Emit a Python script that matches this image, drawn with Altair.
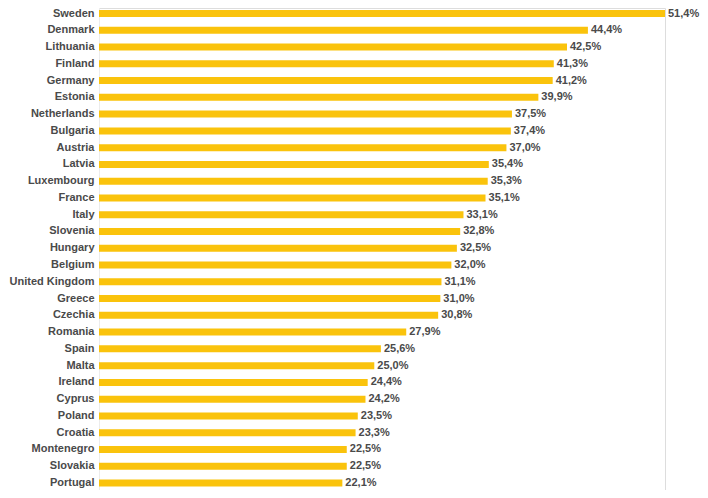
import altair as alt
import pandas as pd

countries = ["Sweden", "Denmark", "Lithuania", "Finland", "Germany", "Estonia",
             "Netherlands", "Bulgaria", "Austria", "Latvia", "Luxembourg", "France",
             "Italy", "Slovenia", "Hungary", "Belgium", "United Kingdom", "Greece",
             "Czechia", "Romania", "Spain", "Malta", "Ireland", "Cyprus", "Poland",
             "Croatia", "Montenegro", "Slovakia", "Portugal"]
values = [51.4, 44.4, 42.5, 41.3, 41.2, 39.9, 37.5, 37.4, 37.0, 35.4, 35.3, 35.1,
          33.1, 32.8, 32.5, 32.0, 31.1, 31.0, 30.8, 27.9, 25.6, 25.0, 24.4, 24.2,
          23.5, 23.3, 22.5, 22.5, 22.1]
labels = ["51,4%", "44,4%", "42,5%", "41,3%", "41,2%", "39,9%", "37,5%", "37,4%",
          "37,0%", "35,4%", "35,3%", "35,1%", "33,1%", "32,8%", "32,5%", "32,0%",
          "31,1%", "31,0%", "30,8%", "27,9%", "25,6%", "25,0%", "24,4%", "24,2%",
          "23,5%", "23,3%", "22,5%", "22,5%", "22,1%"]

df = pd.DataFrame({"country": countries, "value": values, "label": labels})

n = len(countries)
first_c, last_c = 5.5, 475.0
step = (last_c - first_c) / (n - 1)
r0 = first_c - step / 2
r1 = r0 + step * n

FONT = "Liberation Sans"
FS = 11
TXT = "#4a4a4a"

yaxis = alt.Axis(title=None, ticks=False, labelPadding=5,
                 labelFont=FONT, labelFontSize=FS,
                 labelFontWeight="bold", labelColor=TXT,
                 domainColor="#ececec", domainWidth=1)
yscale = alt.Scale(range=[r0, r1], paddingInner=0, paddingOuter=0)
xscale = alt.Scale(domain=[0, 51.4], nice=False, zero=True)

bars = alt.Chart(df).mark_bar(color="#FAC30C", size=7).encode(
    y=alt.Y("country:N", sort=countries, scale=yscale, axis=yaxis),
    x=alt.X("value:Q", scale=xscale, axis=None))
text = alt.Chart(df).mark_text(align="left", baseline="middle", dx=3,
                               font=FONT, fontSize=FS,
                               fontWeight="bold", color=TXT).encode(
    y=alt.Y("country:N", sort=countries, scale=yscale, axis=yaxis),
    x=alt.X("value:Q", scale=xscale, axis=None),
    text="label:N")

chart = (bars + text).properties(
    width=566, height=482,
    autosize=alt.AutoSizeParams(type="none"),
    padding={"left": 91, "top": 0, "right": 35, "bottom": 0},
).configure_view(strokeWidth=0, stroke=None).configure(background="white")

chart.save("out.html", embed_options={"renderer": "svg", "actions": False})
